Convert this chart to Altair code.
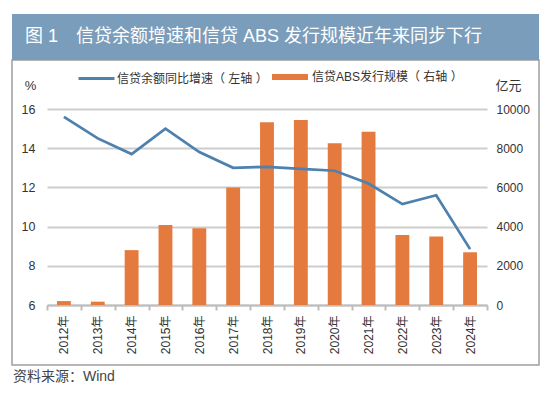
import altair as alt
import pandas as pd

years = ["2012年", "2013年", "2014年", "2015年", "2016年", "2017年", "2018年",
         "2019年", "2020年", "2021年", "2022年", "2023年", "2024年"]
loan_growth = [15.6, 14.5, 13.7, 15.0, 13.8, 13.0, 13.05, 12.95, 12.85, 12.2, 11.15, 11.6, 8.85]
abs_issuance = [200, 170, 2800, 4080, 3910, 6000, 9320, 9440, 8250, 8840, 3570, 3490, 2690]
left_ticks = [6, 8, 10, 12, 14, 16]
right_ticks = [0, 2000, 4000, 6000, 8000, 10000]

line_name = "信贷余额同比增速（ 左轴 ）"
bar_name = "信贷ABS发行规模（ 右轴 ）"
title_prefix = "图 1"
title_text = "信贷余额增速和信贷 ABS 发行规模近年来同步下行"
source_text = "资料来源：Wind"

FONT = "Liberation Sans, 'Noto Sans CJK SC'"
BLUE = "#4E81AE"
ORANGE = "#E57A3F"
BANNER = "#7A9DBB"
GRID = "#cdcdcd"
TEXT = "#333333"

df = pd.DataFrame({
    "year": years,
    "growth": loan_growth,
    "abs": abs_issuance,
    "line_s": [line_name] * len(years),
    "bar_s": [bar_name] * len(years),
})

one = pd.DataFrame({"k": [0]})

x_enc = alt.X(
    "year:N", sort=years, title=None,
    scale=alt.Scale(paddingInner=0, paddingOuter=0),
    axis=alt.Axis(labelAngle=270, labelFontSize=12, labelColor=TEXT, labelFont=FONT,
                  tickBand="extent", tickSize=5, tickColor="#bdbdbd", tickWidth=2,
                  domainColor="#bdbdbd", domainWidth=2, labelPadding=5, grid=False),
)

bars = alt.Chart(df).mark_bar(width=alt.RelativeBandSize(0.41)).encode(
    x=x_enc,
    y=alt.Y("abs:Q", title="亿元",
            scale=alt.Scale(domain=[0, 10000]),
            axis=alt.Axis(orient="right", values=right_ticks, format="d", grid=False,
                          domain=False, ticks=False, labelFontSize=12, labelColor=TEXT,
                          labelFont=FONT, labelPadding=9, titleAngle=0, titleX=21,
                          titleY=-24, titleAlign="center", titleBaseline="middle",
                          titleFontSize=13, titleFontWeight="normal", titleColor=TEXT,
                          titleFont=FONT)),
    fill=alt.Fill("bar_s:N", title=None,
                  scale=alt.Scale(domain=[bar_name], range=[ORANGE]),
                  legend=alt.Legend(orient="none", legendX=225, legendY=-50,
                                    symbolType="M-1,-0.17H1V0.17H-1Z", symbolSize=1296,
                                    symbolStrokeWidth=0, labelOffset=4, padding=0,
                                    labelFontSize=12, labelColor=TEXT, labelFont=FONT)),
)

line = alt.Chart(df).mark_line(strokeWidth=2.75).encode(
    x=x_enc,
    y=alt.Y("growth:Q", title="%",
            scale=alt.Scale(domain=[6, 16]),
            axis=alt.Axis(orient="left", values=left_ticks, grid=True, gridColor=GRID,
                          gridWidth=2, domain=False, ticks=False, labelFontSize=12.5,
                          labelColor=TEXT, labelFont=FONT, labelPadding=12,
                          titleAngle=0, titleX=-17, titleY=-24, titleAlign="center",
                          titleBaseline="middle", titleFontSize=13,
                          titleFontWeight="normal", titleColor=TEXT, titleFont=FONT)),
    stroke=alt.Stroke("line_s:N", title=None,
                      scale=alt.Scale(domain=[line_name], range=[BLUE]),
                      legend=alt.Legend(orient="none", legendX=30, legendY=-50,
                                        symbolType="stroke", symbolSize=1296,
                                        symbolStrokeWidth=3, labelOffset=1, padding=0,
                                        labelFontSize=12, labelColor=TEXT, labelFont=FONT)),
)

border = alt.Chart(one).mark_rect(filled=False, stroke="#9e9e9e", strokeWidth=1.5).encode(
    x=alt.value(-35), x2=alt.value(492), y=alt.value(-49), y2=alt.value(256))

banner = alt.Chart(one).mark_rect(fill=BANNER).encode(
    x=alt.value(-35), x2=alt.value(492), y=alt.value(-95), y2=alt.value(-49))

title1 = alt.Chart(one).mark_text(align="left", baseline="middle", fontSize=18,
                                  color="white", font=FONT).encode(
    x=alt.value(-22), y=alt.value(-72), text=alt.value(title_prefix))

title2 = alt.Chart(one).mark_text(align="left", baseline="middle", fontSize=18,
                                  color="white", font=FONT).encode(
    x=alt.value(29), y=alt.value(-72), text=alt.value(title_text))

source = alt.Chart(one).mark_text(align="left", baseline="middle", fontSize=14,
                                  color="#444444", font=FONT).encode(
    x=alt.value(-34), y=alt.value(268), text=alt.value(source_text))

chart = alt.layer(border, banner, title1, title2, bars, line, source).resolve_scale(
    y="independent"
).properties(
    width=440, height=196,
    padding={"left": 39, "top": 101, "right": 55, "bottom": 85},
    autosize=alt.AutoSizeParams(type="none"),
    background="white",
).configure_view(stroke=None)

chart.save("out.html", embed_options={"renderer": "svg", "actions": False})
